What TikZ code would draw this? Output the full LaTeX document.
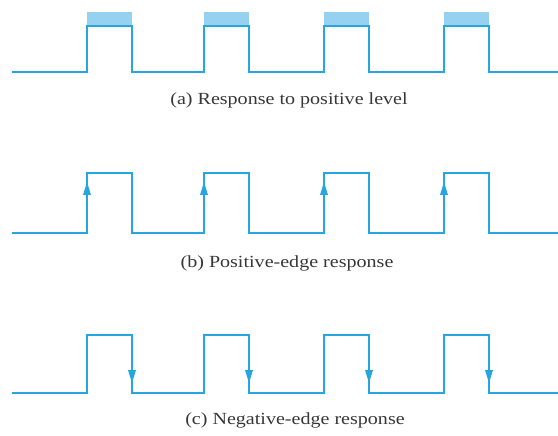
\documentclass[tikz,border=0pt]{standalone}
\usepackage{fontspec}
\setmainfont{Liberation Serif}
\definecolor{wave}{RGB}{38,166,224}
\definecolor{level}{RGB}{150,210,240}
\definecolor{captext}{RGB}{55,55,55}

\begin{document}
\begin{tikzpicture}[x=1pt,y=-1pt]
\tikzstyle{signal}=[draw=wave,line width=2.2pt]
\tikzstyle{edgetip}=[fill=wave]
\tikzstyle{caption}=[text=captext,font=\fontsize{17}{20}\selectfont,xscale=1.18]

\useasboundingbox (0,0) rectangle (558,436);

% (a) level
\foreach \x in {87,204,324,444}
  \fill[level] (\x,12) rectangle (\x+45,26);
\draw[signal] (12,72) \foreach \x in {87,204,324,444} { -- (\x,72) -- (\x,26) -- (\x+45,26) -- (\x+45,72) } -- (558,72);
\node[caption] (capa) at (289,100) {(a) Response to positive level};

% (b) positive edge
\draw[signal] (12,233) \foreach \x in {87,204,324,444} { -- (\x,233) -- (\x,173) -- (\x+45,173) -- (\x+45,233) } -- (558,233);
\foreach \x in {87,204,324,444}
  \fill[edgetip] (\x,182) -- (\x-4,195) -- (\x+4,195) -- cycle;
\node[caption] (capb) at (287,263) {(b) Positive-edge response};

% (c) negative edge
\draw[signal] (12,393) \foreach \x in {87,204,324,444} { -- (\x,393) -- (\x,335) -- (\x+45,335) -- (\x+45,393) } -- (558,393);
\foreach \x in {87,204,324,444}
  \fill[edgetip] (\x+45,383) -- (\x+41,370) -- (\x+49,370) -- cycle;
\node[caption] (capc) at (295,420) {(c) Negative-edge response};
\end{tikzpicture}
\end{document}
